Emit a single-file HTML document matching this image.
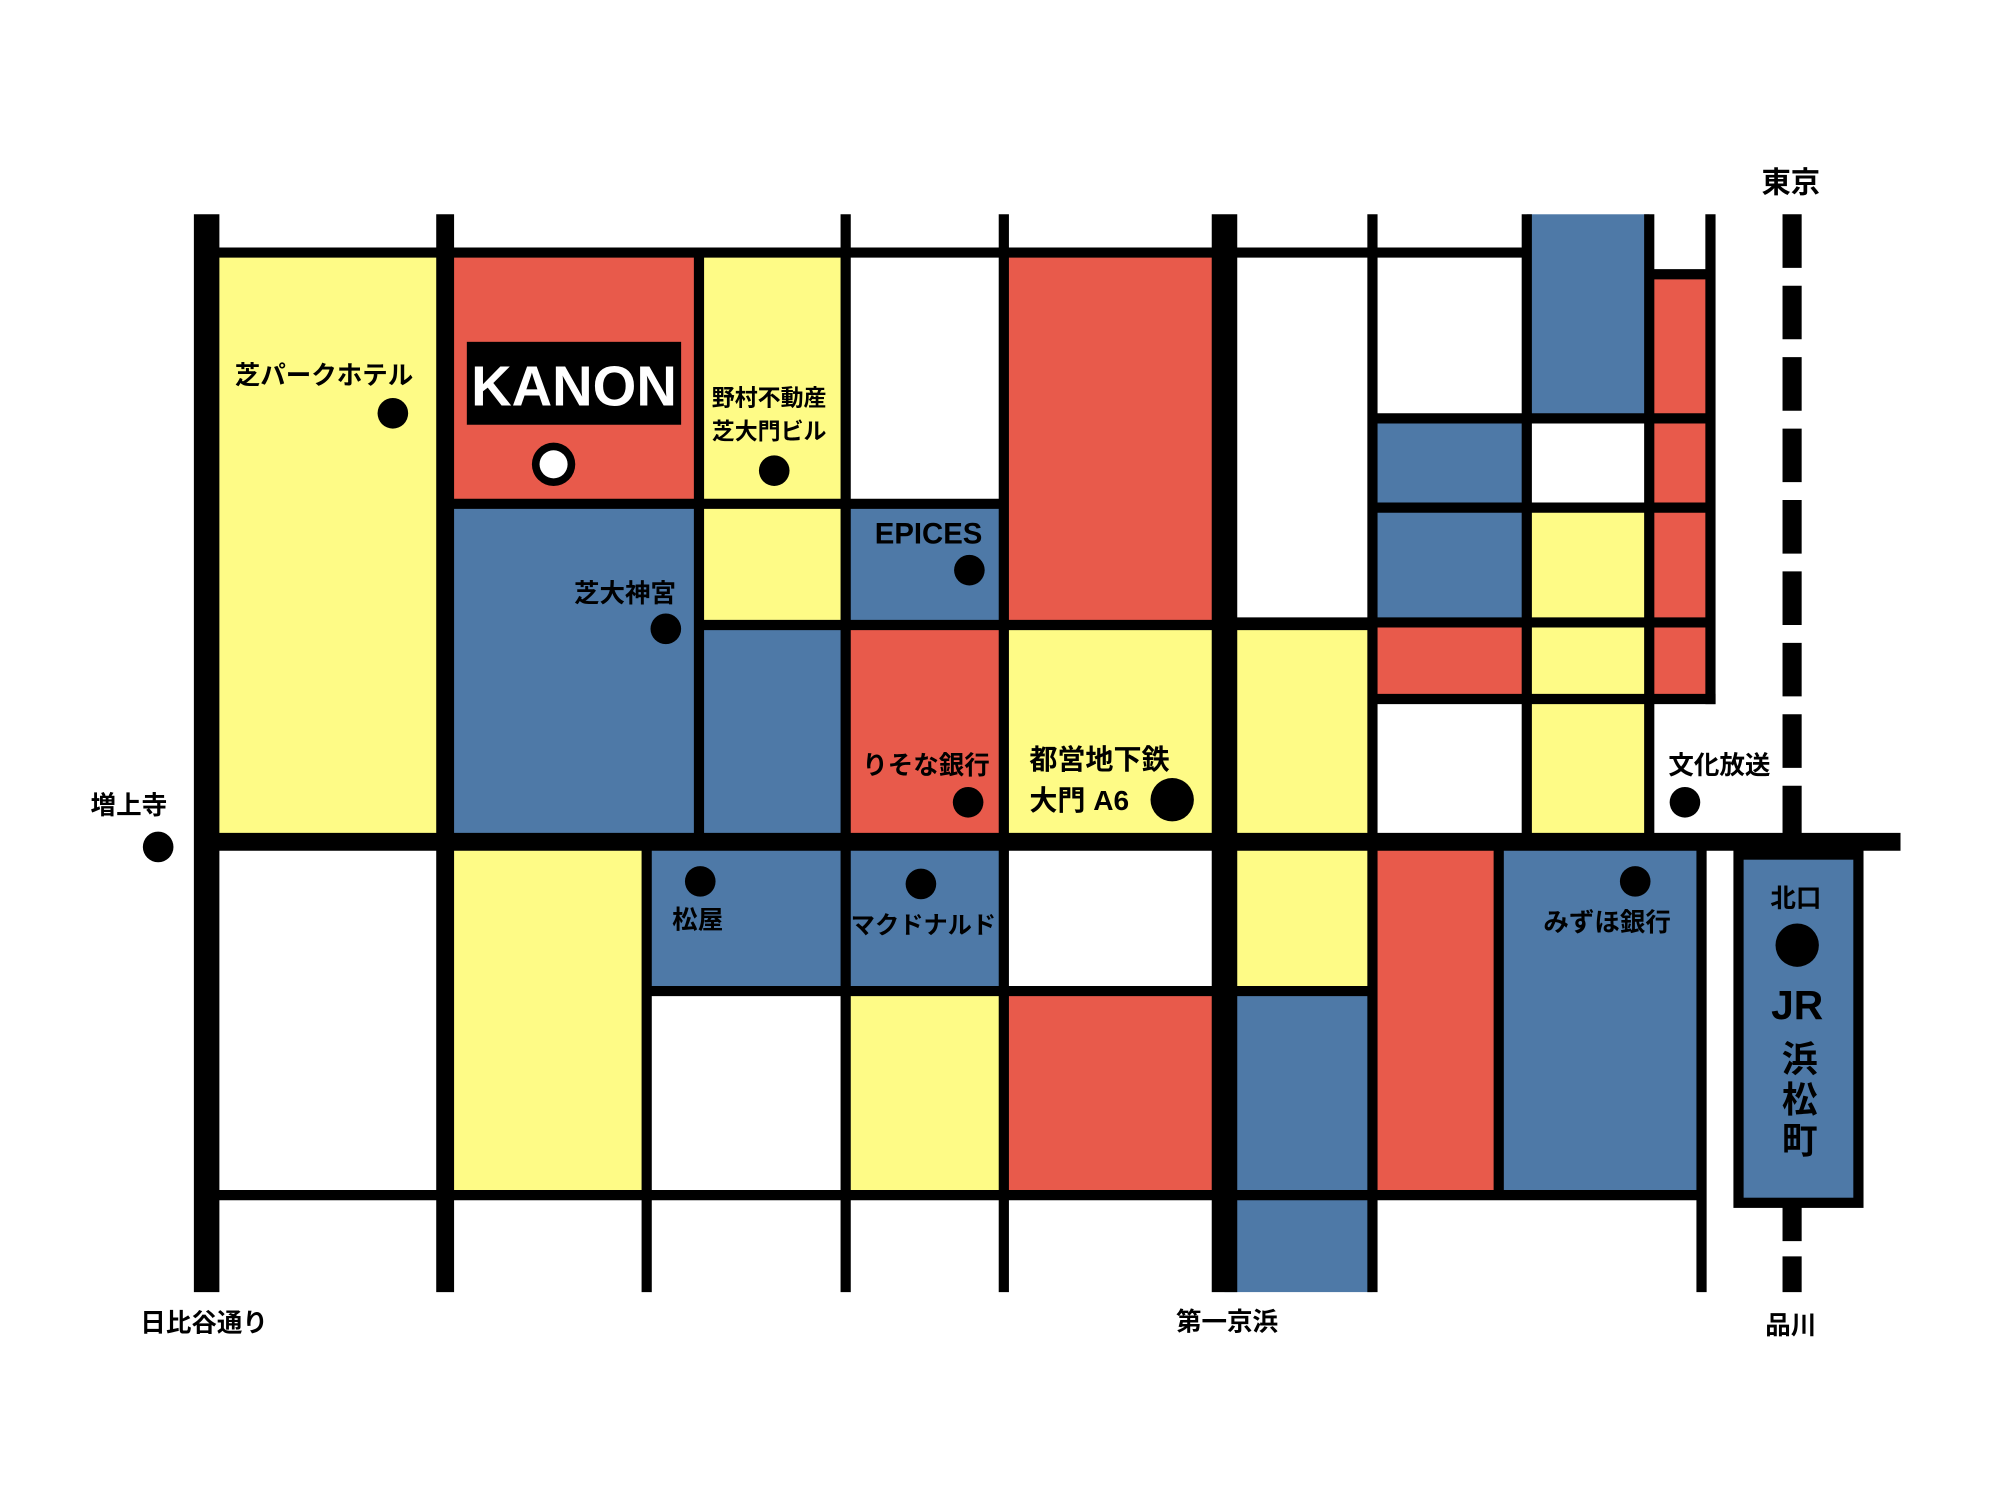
<!DOCTYPE html>
<html><head><meta charset="utf-8"><style>
html,body{margin:0;padding:0;background:#fff;}
svg{display:block;}
text{font-family:"Liberation Sans","Noto Sans CJK JP",sans-serif;font-weight:bold;fill:#000;}
</style></head><body>
<svg width="2000" height="1500" viewBox="0 0 1568 1176" xmlns="http://www.w3.org/2000/svg">
<rect width="1568" height="1176" fill="#fff"/>
<g stroke="none">
<rect x="165" y="198" width="185" height="462" fill="#FEFB86"/>
<rect x="349" y="198" width="199" height="197" fill="#E85A4B"/>
<rect x="349" y="395" width="199" height="265" fill="#4E79A7"/>
<rect x="548" y="198" width="115" height="292" fill="#FEFB86"/>
<rect x="548" y="490" width="115" height="170" fill="#4E79A7"/>
<rect x="663" y="395" width="124" height="95" fill="#4E79A7"/>
<rect x="663" y="490" width="124" height="170" fill="#E85A4B"/>
<rect x="787" y="198" width="173" height="292" fill="#E85A4B"/>
<rect x="787" y="490" width="173" height="170" fill="#FEFB86"/>
<rect x="960" y="490" width="116" height="170" fill="#FEFB86"/>
<rect x="1076" y="328" width="121" height="160" fill="#4E79A7"/>
<rect x="1076" y="488" width="121" height="60" fill="#E85A4B"/>
<rect x="1197" y="168" width="96" height="160" fill="#4E79A7"/>
<rect x="1197" y="398" width="96" height="262" fill="#FEFB86"/>
<rect x="1293" y="215" width="48" height="333" fill="#E85A4B"/>
<rect x="349" y="660" width="158" height="277" fill="#FEFB86"/>
<rect x="507" y="660" width="156" height="117" fill="#4E79A7"/>
<rect x="663" y="660" width="124" height="117" fill="#4E79A7"/>
<rect x="663" y="777" width="124" height="160" fill="#FEFB86"/>
<rect x="787" y="777" width="173" height="160" fill="#E85A4B"/>
<rect x="960" y="660" width="116" height="117" fill="#FEFB86"/>
<rect x="960" y="777" width="116" height="236" fill="#4E79A7"/>
<rect x="1076" y="660" width="99" height="277" fill="#E85A4B"/>
<rect x="1175" y="660" width="159" height="277" fill="#4E79A7"/>
</g>
<g stroke="#000" fill="none">
<line x1="162" y1="198" x2="1197" y2="198" stroke-width="8"/>
<line x1="162" y1="660" x2="1490" y2="660" stroke-width="14"/>
<line x1="162" y1="937" x2="1334" y2="937" stroke-width="8"/>
<line x1="349" y1="395" x2="787" y2="395" stroke-width="8"/>
<line x1="548" y1="490" x2="1076" y2="490" stroke-width="8"/>
<line x1="960" y1="488" x2="1341" y2="488" stroke-width="8"/>
<line x1="1076" y1="328" x2="1341" y2="328" stroke-width="8"/>
<line x1="1076" y1="398" x2="1341" y2="398" stroke-width="8"/>
<line x1="1076" y1="548" x2="1345" y2="548" stroke-width="8"/>
<line x1="1293" y1="215" x2="1341" y2="215" stroke-width="8"/>
<line x1="507" y1="777" x2="1076" y2="777" stroke-width="8"/>
<line x1="162" y1="168" x2="162" y2="1013" stroke-width="20"/>
<line x1="349" y1="168" x2="349" y2="1013" stroke-width="14"/>
<line x1="663" y1="168" x2="663" y2="1013" stroke-width="8"/>
<line x1="787" y1="168" x2="787" y2="1013" stroke-width="8"/>
<line x1="960" y1="168" x2="960" y2="1013" stroke-width="20"/>
<line x1="1076" y1="168" x2="1076" y2="1013" stroke-width="8"/>
<line x1="1197" y1="168" x2="1197" y2="660" stroke-width="8"/>
<line x1="1293" y1="168" x2="1293" y2="660" stroke-width="8"/>
<line x1="1341" y1="168" x2="1341" y2="552" stroke-width="8"/>
<line x1="548" y1="198" x2="548" y2="660" stroke-width="8"/>
<line x1="507" y1="660" x2="507" y2="1013" stroke-width="8"/>
<line x1="1175" y1="660" x2="1175" y2="937" stroke-width="8"/>
<line x1="1334" y1="660" x2="1334" y2="1013" stroke-width="8"/>
<line x1="1405" y1="168" x2="1405" y2="655" stroke-width="15" stroke-dasharray="42 14"/>
<line x1="1405" y1="945" x2="1405" y2="1013" stroke-width="15" stroke-dasharray="28 12"/>
</g>
<rect x="1363" y="670" width="94" height="273" fill="#4E79A7" stroke="#000" stroke-width="8"/>
<rect x="366" y="268" width="168" height="65" fill="#000"/>
<text x="450" y="318" text-anchor="middle" font-size="44" style="fill:#fff">KANON</text>
<circle cx="434" cy="364" r="17" fill="#000"/>
<circle cx="434" cy="364" r="11" fill="#fff"/>
<g fill="#000">
<circle cx="308" cy="324" r="12"/>
<circle cx="607" cy="369" r="12"/>
<circle cx="760" cy="447" r="12"/>
<circle cx="522" cy="493" r="12"/>
<circle cx="759" cy="629" r="12"/>
<circle cx="919" cy="627" r="17"/>
<circle cx="1321" cy="629" r="12"/>
<circle cx="124" cy="664" r="12"/>
<circle cx="549" cy="691" r="12"/>
<circle cx="722" cy="693" r="12"/>
<circle cx="1282" cy="691" r="12"/>
<circle cx="1409" cy="741" r="17"/>
</g>
<g font-size="20">
<text x="254" y="301" text-anchor="middle">芝パークホテル</text>
<text x="603" y="318" text-anchor="middle" font-size="18">野村不動産</text>
<text x="603" y="344" text-anchor="middle" font-size="18">芝大門ビル</text>
<text x="728" y="426" text-anchor="middle" font-size="23">EPICES</text>
<text x="490" y="472" text-anchor="middle">芝大神宮</text>
<text x="726" y="607" text-anchor="middle">りそな銀行</text>
<text x="807" y="603" font-size="22">都営地下鉄</text>
<text x="807" y="635" font-size="22">大門 A6</text>
<text x="1348" y="607" text-anchor="middle">文化放送</text>
<text x="101" y="638" text-anchor="middle">増上寺</text>
<text x="547" y="728" text-anchor="middle">松屋</text>
<text x="724" y="732" text-anchor="middle" font-size="19">マクドナルド</text>
<text x="1260" y="730" text-anchor="middle">みずほ銀行</text>
<text x="1408" y="711" text-anchor="middle">北口</text>
<text x="1409" y="799" text-anchor="middle" font-size="32">JR</text>
<text x="1411" y="840" text-anchor="middle" font-size="28">浜</text>
<text x="1411" y="872" text-anchor="middle" font-size="28">松</text>
<text x="1411" y="904" text-anchor="middle" font-size="28">町</text>
<text x="1404" y="151" text-anchor="middle" font-size="23">東京</text>
<text x="160" y="1044" text-anchor="middle">日比谷通り</text>
<text x="962" y="1043" text-anchor="middle">第一京浜</text>
<text x="1404" y="1046" text-anchor="middle">品川</text>
</g>
</svg>
</body></html>
